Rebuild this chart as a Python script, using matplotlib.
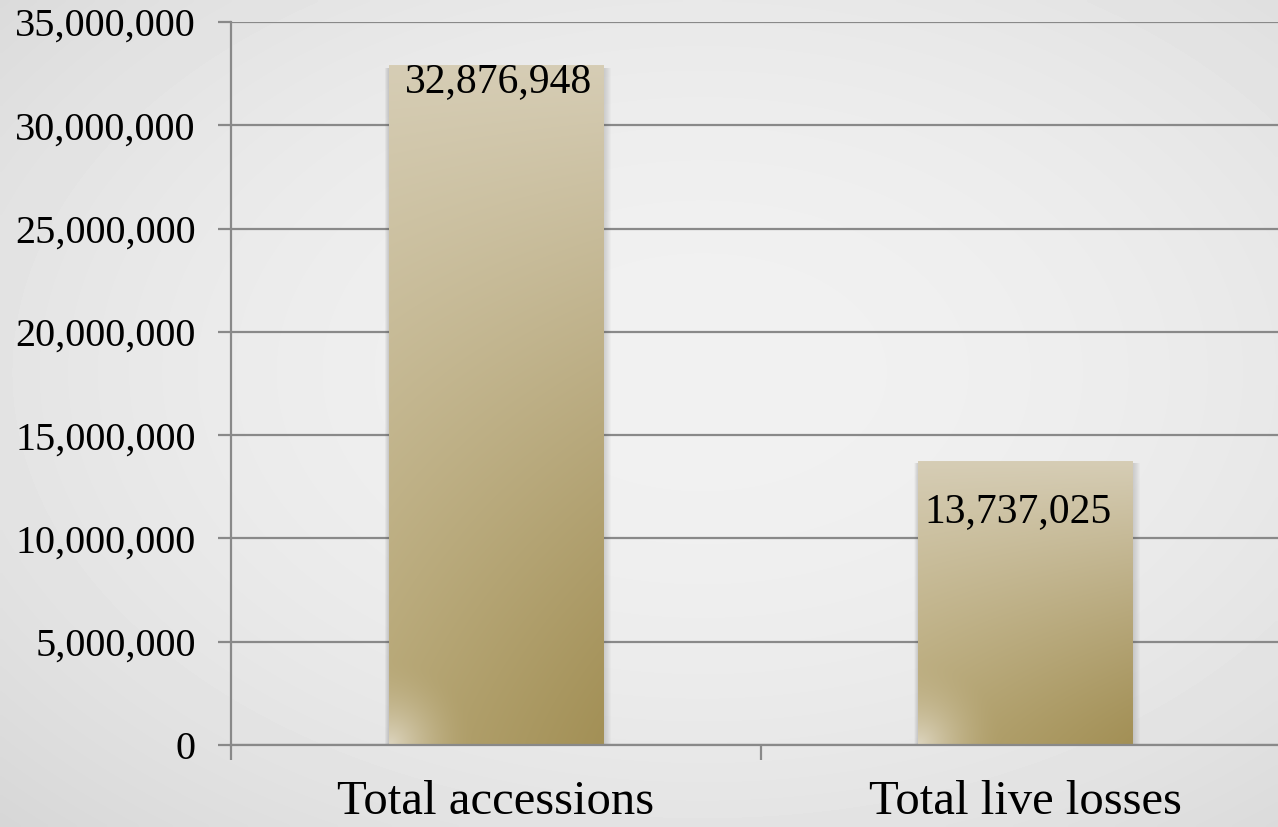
import numpy as np
import matplotlib
matplotlib.use("Agg")
import matplotlib.pyplot as plt
from matplotlib.ticker import FuncFormatter, FixedLocator

# data
categories = ["Total accessions", "Total live losses"]
values = [32876948, 13737025]
y_ticks = [0, 5000000, 10000000, 15000000, 20000000, 25000000, 30000000, 35000000]

plt.rcParams["font.family"] = ["Liberation Serif", "DejaVu Serif"]

GRID = "#898989"
BAR_W = 0.405

fig = plt.figure(figsize=(12.78, 8.27), dpi=100)

# soft grey vignette behind everything
bg = fig.add_axes([0, 0, 1, 1], zorder=-10)
gy, gx = np.mgrid[0:1:200j, 0:1:300j]
r = np.sqrt(((gx - 0.55) / 0.8) ** 2 + ((gy - 0.45) / 0.8) ** 2)
shade = np.clip(0.945 - 0.11 * r ** 2, 0.8, 0.95)
bg.imshow(shade, cmap="gray", vmin=0, vmax=1, extent=(0, 1, 0, 1),
          aspect="auto", interpolation="bilinear")
bg.axis("off")

ax = fig.add_axes([231 / 1278, 1 - 745 / 827, 1059 / 1278, 723 / 827])
ax.patch.set_alpha(0)

ax.yaxis.set_major_locator(FixedLocator(y_ticks))
ax.yaxis.set_major_formatter(FuncFormatter(lambda v, p: f"{v:,.0f}"))
ax.grid(axis="y", color=GRID, linewidth=1.6, zorder=0)
ax.set_axisbelow(True)

ax.set_xticks(range(len(categories)))
ax.set_xticklabels(categories, fontsize=35)
ax.set_xticks(np.arange(-0.5, len(categories), 1.0), minor=True)
ax.tick_params(axis="x", which="major", length=0, pad=25)
ax.tick_params(axis="x", which="minor", length=11, width=1.6, color=GRID, direction="out")
ax.tick_params(axis="y", length=9.5, width=1.6, color=GRID, pad=16, labelsize=29)

for s in ["top", "right"]:
    ax.spines[s].set_visible(False)
for s in ["left", "bottom"]:
    ax.spines[s].set_color(GRID)
    ax.spines[s].set_linewidth(1.6)

# bar gradient: light top, darker bottom-right, small highlight bottom-left
top_c = np.array([214, 205, 181]) / 255
bl_c = np.array([182, 166, 116]) / 255
br_c = np.array([163, 144, 86]) / 255
hi_c = np.array([220, 212, 190]) / 255

px_x = 1059 / 2.0        # pixels per x unit
px_y = 723 / 35000000    # pixels per y unit

for i, v in enumerate(values):
    x0, x1 = i - BAR_W / 2, i + BAR_W / 2
    w_px = BAR_W * px_x
    h_px = v * px_y
    # soft side shadow
    for k in range(1, 9):
        dx = k / px_x
        ax.add_patch(plt.Rectangle((x0 - dx * 0.5, 0), BAR_W + dx * 1.5, v - 2 / px_y,
                                   facecolor="#5a5a5a", alpha=0.03, lw=0, zorder=1))
    ny = max(int(h_px / 2), 10)
    nx = int(w_px / 2)
    vv, uu = np.mgrid[1:0:ny * 1j, 0:1:nx * 1j]
    bottom = bl_c[None, None, :] * (1 - uu[..., None]) + br_c[None, None, :] * uu[..., None]
    t = vv[..., None] ** 1.2
    img = bottom * (1 - t) + top_c[None, None, :] * t
    rr = np.sqrt((uu * w_px) ** 2 + (vv * h_px) ** 2) / 85.0
    hw = np.clip(1 - rr, 0, 1)[..., None] ** 1.8
    img = img * (1 - hw) + hi_c[None, None, :] * hw
    ax.imshow(img, extent=(x0, x1, 0, v), aspect="auto", interpolation="bilinear", zorder=2)

ax.set_xlim(-0.5, len(categories) - 0.5)
ax.set_ylim(0, 35000000)

# data labels
label_dx = [2, -5]
label_dy = [-19, -44]
for i, v in enumerate(values):
    ax.annotate(f"{v:,}", xy=(i, v), xytext=(label_dx[i], label_dy[i]),
                textcoords="offset points", ha="center", va="baseline",
                fontsize=30, color="black", zorder=5)

fig.savefig("out.png", dpi=100)
